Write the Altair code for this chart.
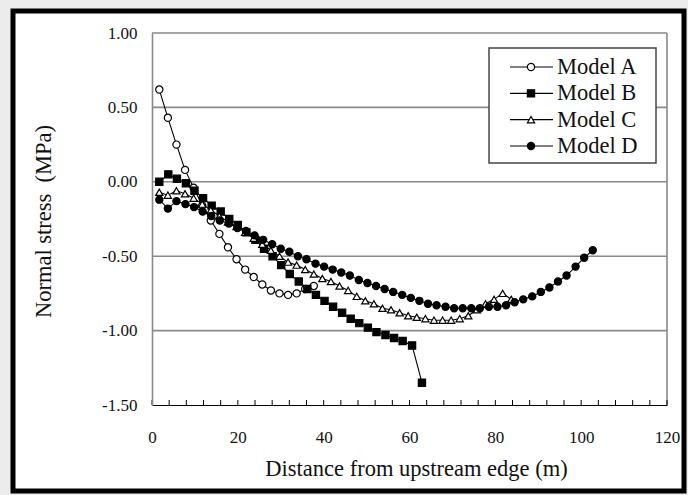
import altair as alt
import pandas as pd

MODELS = ["Model A", "Model B", "Model C", "Model D"]

A_X = [1.7, 3.7, 5.7, 7.7, 9.7, 11.7, 13.7, 15.7, 17.7, 19.7, 21.7, 23.7, 25.7, 27.7, 29.7, 31.7, 33.7, 35.7, 37.7]
A_Y = [0.62, 0.43, 0.25, 0.08, -0.04, -0.16, -0.26, -0.35, -0.44, -0.52, -0.59, -0.64, -0.69, -0.73, -0.75, -0.76, -0.75, -0.72, -0.70]

B_X = [1.7, 3.8, 5.8, 7.9, 9.9, 11.9, 13.9, 16.0, 18.0, 20.0, 22.0, 24.1, 26.1, 28.1, 30.1, 32.1,
       34.2, 36.2, 38.2, 40.2, 42.2, 44.3, 46.3, 48.3, 50.3, 52.3, 54.4, 56.4, 58.4, 60.6, 62.9]
B_Y = [0.00, 0.05, 0.02, -0.01, -0.06, -0.11, -0.16, -0.20, -0.25, -0.29, -0.34, -0.39, -0.45, -0.50, -0.56, -0.62,
       -0.67, -0.72, -0.76, -0.80, -0.84, -0.88, -0.92, -0.95, -0.98, -1.01, -1.03, -1.05, -1.07, -1.10, -1.35]

C_X = [1.7, 3.7, 5.7, 7.7, 9.7, 11.7, 13.7, 15.7, 17.7, 19.7, 21.7, 23.7, 25.7, 27.7, 29.7, 31.7, 33.7, 35.7, 37.7, 39.7, 41.7,
       43.7, 45.7, 47.7, 49.7, 51.7, 53.7, 55.7, 57.7, 59.7, 61.7, 63.7, 65.7, 67.7, 69.7, 71.7, 73.7, 75.7, 77.7, 79.7, 81.7, 83.7]
C_Y = [-0.07, -0.09, -0.06, -0.08, -0.11, -0.15, -0.19, -0.23, -0.27, -0.30, -0.34, -0.38, -0.42, -0.46, -0.50, -0.54, -0.56,
       -0.59, -0.62, -0.65, -0.67, -0.70, -0.73, -0.77, -0.80, -0.82, -0.85, -0.86, -0.88, -0.90, -0.91, -0.92, -0.93, -0.93,
       -0.93, -0.92, -0.90, -0.86, -0.82, -0.79, -0.75, -0.79]

D_X = [1.7, 3.7, 5.7, 7.8, 9.8, 11.8, 13.8, 15.8, 17.9, 19.9, 21.9, 23.9, 25.9, 28.0, 30.0, 32.0, 34.0, 36.0, 38.1, 40.1,
       42.1, 44.1, 46.1, 48.2, 50.2, 52.2, 54.2, 56.2, 58.3, 60.3, 62.3, 64.3, 66.3, 68.4, 70.4, 72.4, 74.4, 76.4, 78.5,
       80.5, 82.5, 84.5, 86.5, 88.6, 90.6, 92.6, 94.6, 96.6, 98.7, 100.7, 102.7]
D_Y = [-0.12, -0.18, -0.13, -0.15, -0.17, -0.20, -0.23, -0.26, -0.28, -0.31, -0.33, -0.36, -0.39, -0.42, -0.45, -0.47,
       -0.50, -0.52, -0.55, -0.57, -0.59, -0.61, -0.63, -0.66, -0.68, -0.70, -0.72, -0.74, -0.76, -0.78, -0.80, -0.82,
       -0.83, -0.84, -0.85, -0.85, -0.85, -0.85, -0.84, -0.84, -0.83, -0.81, -0.79, -0.77, -0.74, -0.71, -0.67, -0.63,
       -0.57, -0.51, -0.46]

X_LABELS = [0, 20, 40, 60, 80, 100, 120]
X_TICKS = [0, 4, 8, 12, 16, 20, 24, 28, 32, 36, 40, 44, 48, 52, 56, 60, 64, 68, 72, 76, 80, 84, 88, 92, 96, 100,
           104, 108, 112, 116, 120]
Y_LABELS = [-1.5, -1.0, -0.5, 0.0, 0.5, 1.0]
GRID_Y = [1.0, 0.5, 0.0, -0.5, -1.0]

X_TITLE = "Distance from upstream edge (m)"
Y_TITLE = "Normal stress\u00a0 (MPa)"

rows = []
for name, xs, ys in [("Model A", A_X, A_Y), ("Model B", B_X, B_Y), ("Model C", C_X, C_Y), ("Model D", D_X, D_Y)]:
    for i, (xv, yv) in enumerate(zip(xs, ys)):
        rows.append({"model": name, "dist": xv, "stress": yv, "idx": i})
df = pd.DataFrame(rows)
legdf = pd.DataFrame({"model": MODELS})
one = pd.DataFrame({"k": [0]})

W, H = 515, 372
FONT = "Liberation Serif"
GRAY = "#8a8a8a"
TXT = "#111111"

xscale = alt.Scale(domain=[0, 120], nice=False, zero=False)
yscale = alt.Scale(domain=[-1.5, 1.0], nice=False, zero=False)
shape_scale = alt.Scale(domain=MODELS, range=["circle", "square", "triangle-up", "circle"])
fill_scale = alt.Scale(domain=MODELS, range=["white", "black", "white", "black"])
size_scale = alt.Scale(domain=MODELS, range=[52, 52, 66, 46])

xaxis = alt.Axis(values=X_LABELS, format="d", ticks=False, tickSize=0, domainColor="black", domainWidth=1.2,
                 labelFont=FONT, labelFontSize=17, labelColor=TXT, labelPadding=24, labelFlush=False,
                 labelOverlap=False, grid=False, title=X_TITLE, titleFont=FONT,
                 titleFontSize=22.5, titleFontWeight="normal", titleColor=TXT, titleX=264, titleY=63,
                 titleBaseline="middle", titleAlign="center", zindex=1)
yaxis = alt.Axis(values=Y_LABELS, format=".2f", labelExpr="replace(datum.label, '\u2212', '-')",
                 ticks=False, tickSize=0, domainColor=GRAY, domainWidth=1.6,
                 labelFont=FONT, labelFontSize=17, labelColor=TXT, labelPadding=15, labelFlush=False,
                 labelOverlap=False, grid=False, title=Y_TITLE, titleFont=FONT, titleFontSize=22.5,
                 titleFontWeight="normal", titleColor=TXT, titleX=-109, titleY=188, titleAngle=270,
                 titleBaseline="middle", titleAlign="center", zindex=1)

frame = alt.Chart(one).mark_rect(fill="white", stroke="black", strokeWidth=5).encode(
    x=alt.value(-139), x2=alt.value(532), y=alt.value(-22), y2=alt.value(458))

grid = alt.Chart(pd.DataFrame({"g": GRID_Y})).mark_rule(color=GRAY, strokeWidth=1.6).encode(
    y=alt.Y("g:Q", scale=yscale, axis=yaxis))
rborder = alt.Chart(pd.DataFrame({"r": [120]})).mark_rule(color=GRAY, strokeWidth=1.6).encode(
    x=alt.X("r:Q", scale=xscale, axis=xaxis))
ticks = alt.Chart(pd.DataFrame({"t": X_TICKS})).mark_rule(color="black", strokeWidth=1).encode(
    x=alt.X("t:Q", scale=xscale, axis=xaxis), y=alt.value(H), y2=alt.value(H - 5))

lines = alt.Chart(df).mark_line(color="black", strokeWidth=1.1).encode(
    x=alt.X("dist:Q", scale=xscale, axis=xaxis),
    y=alt.Y("stress:Q", scale=yscale, axis=yaxis),
    detail="model:N", order="idx:Q")
points = alt.Chart(df).mark_point(filled=True, stroke="black", strokeWidth=1.2, opacity=1).encode(
    x=alt.X("dist:Q", scale=xscale, axis=xaxis),
    y=alt.Y("stress:Q", scale=yscale, axis=yaxis),
    shape=alt.Shape("model:N", scale=shape_scale, legend=None),
    fill=alt.Fill("model:N", scale=fill_scale, legend=None),
    size=alt.Size("model:N", scale=size_scale, legend=None))

ly = alt.Scale(type="point", domain=MODELS, range=[34, 113], padding=0)
box = alt.Chart(one).mark_rect(fill="white", stroke="#444444", strokeWidth=1.5).encode(
    x=alt.value(337), x2=alt.value(504), y=alt.value(15), y2=alt.value(130))
lrule = alt.Chart(legdf).mark_rule(color="black", strokeWidth=1.1).encode(
    y=alt.Y("model:N", scale=ly, axis=None), x=alt.value(358), x2=alt.value(401))
lpts = alt.Chart(legdf).mark_point(filled=True, stroke="black", strokeWidth=1.2, opacity=1).encode(
    y=alt.Y("model:N", scale=ly, axis=None), x=alt.value(379),
    shape=alt.Shape("model:N", scale=shape_scale, legend=None),
    fill=alt.Fill("model:N", scale=fill_scale, legend=None),
    size=alt.Size("model:N", scale=size_scale, legend=None))
ltxt = alt.Chart(legdf).mark_text(align="left", baseline="middle", font=FONT, fontSize=22.5, color=TXT).encode(
    y=alt.Y("model:N", scale=ly, axis=None), x=alt.value(405), text="model:N")

main = alt.layer(grid, rborder, ticks, lines, points)
legend = alt.layer(box, lrule, lpts, ltxt)

chart = alt.layer(frame, main, legend).resolve_scale(y="independent").properties(
    width=W, height=H,
    autosize=alt.AutoSizeParams(type="none"),
    padding={"left": 152, "top": 33, "right": 21, "bottom": 90},
    background="#ececec",
).configure_view(stroke=None)

chart.save("out.html", embed_options={"renderer": "svg", "actions": False})
